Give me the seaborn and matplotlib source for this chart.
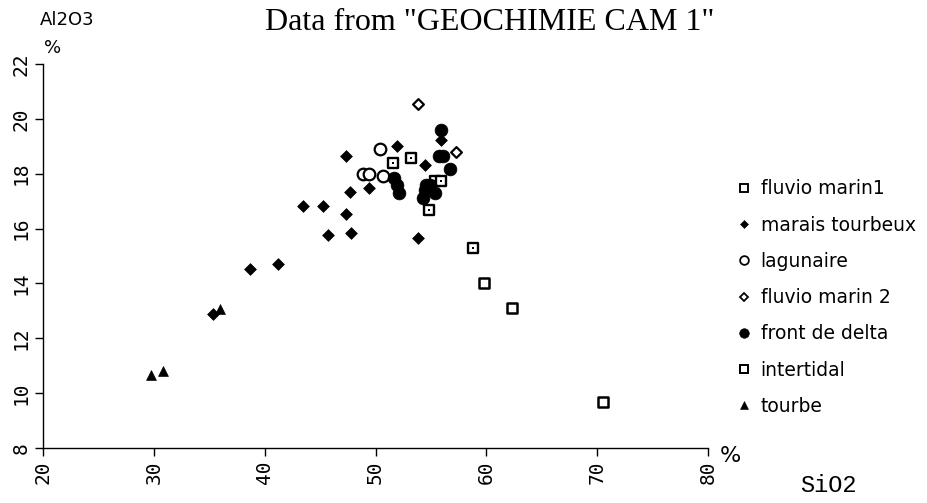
import numpy as np
import pandas as pd
import matplotlib
matplotlib.use("Agg")
import matplotlib.pyplot as plt
import seaborn as sns
from matplotlib.lines import Line2D

# ---- data (SiO2 %, Al2O3 %) ----
fm1_x = [51.6, 53.2, 55.4, 55.9, 54.8, 58.8]
fm1_y = [18.39, 18.58, 17.73, 17.73, 16.68, 15.29]

mt_x = [53.8, 51.9, 47.3, 54.5, 47.7, 49.4, 43.5, 45.3, 47.3, 45.7, 47.8, 38.7, 41.2, 35.3, 55.9]
mt_y = [15.67, 19.02, 18.65, 18.32, 17.32, 17.47, 16.83, 16.83, 16.52, 15.77, 15.83, 14.53, 14.70, 12.89, 19.23]

lag_x = [50.4, 48.9, 49.4, 50.7]
lag_y = [18.89, 17.99, 17.99, 17.92]

fm2_x = [53.8, 57.3]
fm2_y = [20.53, 18.78]

fd_x = [51.7, 51.9, 52.1, 55.9, 55.7, 56.1, 56.7, 54.9, 54.5, 55.4, 54.3, 54.6]
fd_y = [17.85, 17.60, 17.29, 19.59, 18.66, 18.66, 18.17, 17.59, 17.41, 17.29, 17.10, 17.59]

it_x = [59.8, 62.3, 70.5]
it_y = [14.0, 13.09, 9.68]

tb_x = [29.7, 30.8, 36.0]
tb_y = [10.66, 10.82, 13.06]

groups = ["fluvio marin1", "marais tourbeux", "lagunaire", "fluvio marin 2",
          "front de delta", "intertidal", "tourbe"]
xs = [fm1_x, mt_x, lag_x, fm2_x, fd_x, it_x, tb_x]
ys = [fm1_y, mt_y, lag_y, fm2_y, fd_y, it_y, tb_y]

x_ticks = [20, 30, 40, 50, 60, 70, 80]
y_ticks = [8, 10, 12, 14, 16, 18, 20, 22]

df = pd.concat([pd.DataFrame({"SiO2": x, "Al2O3": y, "groupe": g})
                for g, x, y in zip(groups, xs, ys)], ignore_index=True)

sns.set_theme(style="white")
plt.rcParams['font.family'] = ['DejaVu Sans']
plt.rcParams['text.color'] = 'black'

fig = plt.figure(figsize=(9.28, 5.03), dpi=100)
ax = fig.add_axes([43/928, 1-448/503, (708-43)/928, (448-64)/503])

styles = {
    "fluvio marin1":   dict(marker="s", s=48, facecolor="white", edgecolor="black", linewidth=1.7),
    "marais tourbeux": dict(marker="D", s=36, facecolor="black", edgecolor="black", linewidth=0.5),
    "lagunaire":       dict(marker="o", s=70, facecolor="white", edgecolor="black", linewidth=1.6),
    "fluvio marin 2":  dict(marker="D", s=30, facecolor="white", edgecolor="black", linewidth=1.6),
    "front de delta":  dict(marker="o", s=85, facecolor="black", edgecolor="black", linewidth=0.5),
    "intertidal":      dict(marker="s", s=52, facecolor="white", edgecolor="black", linewidth=1.8),
    "tourbe":          dict(marker="^", s=50, facecolor="black", edgecolor="black", linewidth=0.5),
}

for g in groups:
    st = styles[g]
    sub = df[df["groupe"] == g]
    sns.scatterplot(data=sub, x="SiO2", y="Al2O3", ax=ax, marker=st["marker"], s=st["s"],
                    color=st["facecolor"], edgecolor=st["edgecolor"], linewidth=st["linewidth"],
                    legend=False, zorder=3)
    if g == "fluvio marin1":
        sns.scatterplot(data=sub, x="SiO2", y="Al2O3", ax=ax, marker="s", s=4,
                        color="black", edgecolor="black", linewidth=0, legend=False, zorder=4)

ax.set_xlim(20, 80)
ax.set_ylim(8, 22)
ax.set_xticks(x_ticks)
ax.set_yticks(y_ticks)
ax.set_xticklabels([str(t) for t in x_ticks], rotation=90, fontsize=14, family="DejaVu Sans Mono")
ax.set_yticklabels([str(t) for t in y_ticks], rotation=90, va="center", fontsize=14, family="DejaVu Sans Mono")
ax.tick_params(axis="both", direction="out", length=6, width=1, color="black",
               labelcolor="black", pad=3)
ax.tick_params(axis="both", bottom=True, left=True)
for sp in ["top", "right"]:
    ax.spines[sp].set_visible(False)
for sp in ["left", "bottom"]:
    ax.spines[sp].set_color("black")
    ax.spines[sp].set_linewidth(1.0)
ax.set_xlabel("")
ax.set_ylabel("")
ax.grid(False)

fig.text(40/928, 1-20/503, "Al2O3", fontsize=13, ha="left", va="center", color="black")
fig.text(44/928, 1-48/503, "%", fontsize=13, ha="left", va="center", color="black")
fig.text(720/928, 1-456/503, "%", fontsize=16, ha="left", va="center", color="black")
fig.text(800/928, 1-485/503, "SiO2", fontsize=17, ha="left", va="center", family="Liberation Mono",
         color="black")
fig.text(490/928, 1-22/503, 'Data from "GEOCHIMIE CAM 1"', fontsize=23, ha="center", va="center",
         family="Liberation Serif", color="black")

# legend
handles = []
for g in groups:
    st = styles[g]
    ms = np.sqrt(st["s"]) * 0.75
    handles.append(Line2D([], [], linestyle="none", marker=st["marker"], markersize=ms,
                          markerfacecolor=st["facecolor"], markeredgecolor=st["edgecolor"],
                          markeredgewidth=st["linewidth"] * 0.8))
leg = fig.legend(handles, groups, loc="upper left", bbox_to_anchor=(727/928, 1-172/503),
                 frameon=False, fontsize=13.5, labelspacing=0.92, handletextpad=0.4,
                 handlelength=1.0, borderaxespad=0, labelcolor="black")

fig.savefig("out.png", dpi=100, facecolor="white")
